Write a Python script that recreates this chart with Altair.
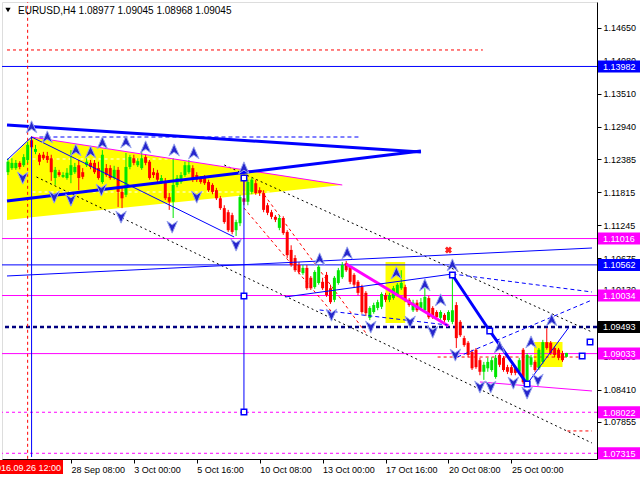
import altair as alt
import pandas as pd

# ---------------- H4 candles (bar 0 = 2016.09.26 12:00) ----------------
FIRST_BAR = -5
bar_open = [1.1216, 1.1223, 1.1223, 1.1232, 1.1228, 1.1237, 1.1271, 1.1251, 1.1246, 1.1246,
            1.1244, 1.1240, 1.1206, 1.1216, 1.1208, 1.1206, 1.1211, 1.1216, 1.1228, 1.1216,
            1.1228, 1.1232, 1.1232, 1.1223, 1.1199, 1.1223, 1.1223, 1.1206, 1.1220, 1.1182,
            1.1177, 1.1225, 1.1240, 1.1228, 1.1223, 1.1242, 1.1234, 1.1216, 1.1215, 1.1199,
            1.1199, 1.1173, 1.1165, 1.1194, 1.1199, 1.1211, 1.1216, 1.1223, 1.1211, 1.1206,
            1.1208, 1.1199, 1.1194, 1.1185, 1.1171, 1.1154, 1.1147, 1.1142, 1.1116, 1.1128,
            1.1171, 1.1165, 1.1182, 1.1197, 1.1185, 1.1180, 1.1159, 1.1147, 1.1139, 1.1120,
            1.1137, 1.1113, 1.1082, 1.1068, 1.1056, 1.1042, 1.1051, 1.1034, 1.1018, 1.1025,
            1.1027, 1.1039, 1.1016, 1.0996, 1.1025, 1.1035, 1.1059, 1.1053, 1.1039, 1.1027,
            1.1018, 1.1008, 1.0965, 1.0975, 1.0982, 1.0984, 1.1004, 1.0996, 1.0999, 1.1004,
            1.1016, 1.1018, 1.0996, 1.0978, 1.0991, 1.0982, 1.0978, 1.0999, 1.0982, 1.0975,
            1.0965, 1.0970, 1.0961, 1.0958, 1.0987, 1.0958, 1.0930, 1.0922, 1.0906, 1.0910,
            1.0892, 1.0872, 1.0878, 1.0875, 1.0863, 1.0901, 1.0896, 1.0880, 1.0880, 1.0878,
            1.0872, 1.0910, 1.0853, 1.0884, 1.0889, 1.0878, 1.0889, 1.0923, 1.0922, 1.0913,
            1.0910, 1.0904, 1.08977]
bar_high = [1.1240, 1.1240, 1.1237, 1.1235, 1.1247, 1.1268, 1.1278, 1.1263, 1.1249, 1.1251,
            1.1251, 1.1246, 1.1225, 1.1220, 1.1216, 1.1223, 1.1254, 1.1232, 1.1237, 1.1223,
            1.1240, 1.1237, 1.1237, 1.1234, 1.1254, 1.1230, 1.1228, 1.1227, 1.1225, 1.1189,
            1.1249, 1.1246, 1.1246, 1.1240, 1.1254, 1.1247, 1.1237, 1.1223, 1.1220, 1.1211,
            1.1206, 1.1180, 1.1240, 1.1211, 1.1216, 1.1234, 1.1237, 1.1228, 1.1216, 1.1209,
            1.1211, 1.1203, 1.1197, 1.1189, 1.1175, 1.1159, 1.1151, 1.1146, 1.1134, 1.1177,
            1.1203, 1.1203, 1.1206, 1.1203, 1.1190, 1.1185, 1.1163, 1.1151, 1.1142, 1.1142,
            1.1140, 1.1116, 1.1090, 1.1073, 1.1061, 1.1056, 1.1056, 1.1037, 1.1047, 1.1056,
            1.1034, 1.1044, 1.1022, 1.1037, 1.1051, 1.1061, 1.1063, 1.1056, 1.1042, 1.1030,
            1.1022, 1.1011, 1.0985, 1.0991, 1.0996, 1.1009, 1.1008, 1.1008, 1.1020, 1.1025,
            1.1047, 1.1022, 1.0999, 1.0996, 1.0996, 1.0999, 1.1016, 1.1003, 1.0985, 1.0978,
            1.0978, 1.0973, 1.0978, 1.1040, 1.0992, 1.0961, 1.0934, 1.0925, 1.0910, 1.0913,
            1.0896, 1.0889, 1.0896, 1.0897, 1.0901, 1.0904, 1.0899, 1.0884, 1.0884, 1.0882,
            1.0896, 1.0913, 1.0904, 1.0901, 1.0892, 1.0913, 1.0927, 1.0947, 1.0925, 1.0916,
            1.0913, 1.0908, 1.09045]
bar_low = [1.1211, 1.1220, 1.1220, 1.1221, 1.1225, 1.1232, 1.1256, 1.1247, 1.1228, 1.1237,
           1.1232, 1.1201, 1.1194, 1.1208, 1.1206, 1.1203, 1.1197, 1.1213, 1.1185, 1.1204,
           1.1225, 1.1221, 1.1213, 1.1203, 1.1196, 1.1208, 1.1203, 1.1203, 1.1156, 1.1154,
           1.1173, 1.1221, 1.1228, 1.1225, 1.1220, 1.1228, 1.1203, 1.1206, 1.1199, 1.1196,
           1.1168, 1.1151, 1.1137, 1.1190, 1.1196, 1.1208, 1.1213, 1.1199, 1.1199, 1.1196,
           1.1194, 1.1182, 1.1178, 1.1168, 1.1151, 1.1127, 1.1113, 1.1109, 1.1106, 1.1123,
           1.1159, 1.1159, 1.1178, 1.1177, 1.1175, 1.1147, 1.1142, 1.1135, 1.1130, 1.1116,
           1.1108, 1.1068, 1.1053, 1.1044, 1.1040, 1.1039, 1.1013, 1.1013, 1.1015, 1.1022,
           1.1013, 1.1001, 1.0989, 1.0992, 1.1022, 1.1032, 1.1044, 1.1023, 1.1018, 1.1004,
           1.0972, 1.0968, 1.0961, 1.0972, 1.0978, 1.0980, 1.0992, 1.0992, 1.0996, 1.1001,
           1.1013, 1.0992, 1.0984, 1.0975, 1.0975, 1.0978, 1.0975, 1.0963, 1.0963, 1.0963,
           1.0961, 1.0958, 1.0958, 1.0954, 1.0913, 1.0932, 1.0915, 1.0897, 1.0875, 1.0877,
           1.0866, 1.0858, 1.0872, 1.0872, 1.0860, 1.0880, 1.0872, 1.0868, 1.0866, 1.0866,
           1.0868, 1.0851, 1.0846, 1.0880, 1.0872, 1.0875, 1.0885, 1.0910, 1.0901, 1.0897,
           1.0892, 1.0889, 1.08968]
bar_close = [1.1234, 1.1232, 1.1232, 1.1225, 1.1242, 1.1263, 1.1259, 1.1256, 1.1234, 1.1240,
             1.1237, 1.1216, 1.1220, 1.1211, 1.1211, 1.1215, 1.1228, 1.1225, 1.1206, 1.1208,
             1.1234, 1.1225, 1.1216, 1.1206, 1.1246, 1.1211, 1.1206, 1.1220, 1.1182, 1.1171,
             1.1225, 1.1242, 1.1232, 1.1235, 1.1240, 1.1232, 1.1206, 1.1211, 1.1203, 1.1206,
             1.1171, 1.1165, 1.1194, 1.1206, 1.1211, 1.1228, 1.1228, 1.1203, 1.1203, 1.1199,
             1.1197, 1.1185, 1.1182, 1.1171, 1.1154, 1.1130, 1.1116, 1.1113, 1.1130, 1.1173,
             1.1165, 1.1199, 1.1203, 1.1180, 1.1180, 1.1151, 1.1146, 1.1139, 1.1134, 1.1137,
             1.1111, 1.1073, 1.1056, 1.1047, 1.1044, 1.1051, 1.1016, 1.1016, 1.1044, 1.1053,
             1.1016, 1.1004, 1.0992, 1.1034, 1.1047, 1.1056, 1.1047, 1.1027, 1.1022, 1.1008,
             1.0975, 1.0973, 1.0982, 1.0987, 1.0992, 1.1006, 1.0996, 1.1004, 1.1016, 1.1022,
             1.1025, 1.0996, 1.0987, 1.0991, 1.0978, 1.0992, 1.1001, 1.0966, 1.0966, 1.0966,
             1.0975, 1.0961, 1.0975, 1.0978, 1.0930, 1.0935, 1.0918, 1.0901, 1.0878, 1.0880,
             1.0872, 1.0884, 1.0889, 1.0892, 1.0896, 1.0884, 1.0875, 1.0872, 1.0870, 1.0870,
             1.0892, 1.0854, 1.0901, 1.0897, 1.0875, 1.0910, 1.0923, 1.0913, 1.0904, 1.0901,
             1.0896, 1.0892, 1.09045]

# time axis labels (bar index -> text)
time_tick_bars = [11, 27, 43, 59, 75, 91, 107, 123]
time_tick_text = ["28 Sep 08:00", "3 Oct 00:00", "5 Oct 16:00", "10 Oct 08:00",
                  "13 Oct 00:00", "17 Oct 16:00", "20 Oct 08:00", "25 Oct 00:00"]
price_ticks = [1.14650, 1.14080, 1.13510, 1.12940, 1.12385, 1.11815, 1.11245,
               1.10675, 1.10130, 1.09560, 1.08990, 1.08410, 1.07855, 1.07300]

# horizontal levels with their price tags
level_price = [1.13982, 1.11016, 1.10562, 1.10034, 1.09493, 1.09033, 1.08022, 1.07315]
level_color = ["#0000ff", "#ff00ff", "#0000ff", "#ff00ff", "#000080", "#ff00ff", "#ff00ff", "#ff00ff"]
tag_color = ["#0000ff", "#ff00ff", "#0000ff", "#ff00ff", "#000000", "#ff00ff", "#ff00ff", "#ff00ff"]
level_style = ["solid", "solid", "solid", "solid", "bold", "solid", "dash", "dash"]

# trend objects: (bar1, price1, bar2, price2)
thick_blue = [(-5.25, 1.12973, 100.0, 1.12508), (-5.25, 1.11663, 100.0, 1.12525),
              (108.0, 1.10388, 117.5, 1.09423), (117.5, 1.09423, 127.0, 1.08509)]
thin_blue = [(-5.25, 1.12370, 1.0, 1.12766), (1.0, 1.12766, 52.5, 1.11043),
             (-5.25, 1.10371, 143.5, 1.10853), (65.5, 1.10009, 108.0, 1.10405),
             (1.0, 1.12766, 1.0, 1.0725), (55.0, 1.12059, 55.0, 1.08027),
             (127.0, 1.08509, 137.5, 1.09475)]
dashed_blue = [(3.0, 1.12766, 84.25, 1.12766), (108.0, 1.10405, 143.5, 1.10095),
               (109.25, 1.08974, 143.5, 1.09957), (74.25, 1.09785, 106.75, 1.09526)]
magenta_thick = [(81.0, 1.10577, 107.0, 1.09509)]
magenta_thin = [(1.0, 1.12766, 80.0, 1.11939), (115.0, 1.08544, 143.5, 1.08389)]
red_dashed = [(-5.25, 1.14266, 115.75, 1.14266), (0.0, 1.0722, 0.0, 1.1509),
              (104.25, 1.08974, 141.0, 1.08974), (137.25, 1.0770, 143.5, 1.0770),
              (55.0, 1.11543, 78.0, 1.09698), (59.25, 1.11853, 86.0, 1.09388)]
black_dotted = [(2.25, 1.12077, 143.5, 1.07492), (50.0, 1.12284, 143.5, 1.09405)]
white_dashed = [(1.25, 1.12387, 36.75, 1.12387), (1.25, 1.11818, 61.75, 1.11818)]

# yellow triangle: upper and lower edges
tri_bar = [-5.25, 1.0, 80.0]
tri_top = [1.12335, 1.12766, 1.11939]
tri_bottom = [1.11336, 1.11381, 1.11939]
# highlight boxes (bar1, bar2, price_low, price_high)
boxes = [(91.0, 96.0, 1.09561, 1.10612), (128.75, 136.0, 1.08802, 1.09233)]

# fractal arrows (bar, price)
up_arrows = [(1, 1.12939), (5, 1.12766), (12.25, 1.12542), (16, 1.12508), (19, 1.12663),
             (25, 1.12680), (30, 1.12594), (37.25, 1.12542), (42.25, 1.12491), (55, 1.12232),
             (74.25, 1.10664), (81.25, 1.10767), (93.75, 1.10422), (101, 1.10216),
             (105, 1.09957), (108, 1.10560), (120, 1.09147), (128, 1.09233), (133.25, 1.09612)]
down_arrows = [(-1.25, 1.12060), (6.75, 1.11732), (11, 1.11680), (18.75, 1.11853),
               (23.75, 1.11387), (36.75, 1.11215), (43, 1.11732), (53, 1.10905),
               (77.25, 1.09698), (87.25, 1.09492), (97.25, 1.09578), (103, 1.09405),
               (108.75, 1.09009), (115, 1.08458), (117.75, 1.08458), (123.5, 1.08526),
               (127, 1.08354), (129.75, 1.08578)]
squares = [(55, 1.12059), (55, 1.10026), (55, 1.08027), (108, 1.10388), (117.5, 1.09423),
           (127, 1.08509), (141, 1.08990), (143, 1.09233)]
cross_marks = [(107, 1.10819)]

# ---------------- scales and axes ----------------
xs = alt.Scale(domain=[-5.25, 143.5], nice=False, zero=False)
ys = alt.Scale(domain=[1.072165, 1.150929], nice=False, zero=False)
FONT = "Liberation Sans"
FS = 9

label_expr = " : ".join(f"datum.value == {b} ? '{t}'" for b, t in zip(time_tick_bars, time_tick_text)) + " : ''"
XA = alt.Axis(values=time_tick_bars, labelExpr=label_expr, tickSize=4, labelAlign="left",
              labelBaseline="top", labelPadding=2, labelFont=FONT, labelFontSize=FS,
              labelColor="black", domainColor="black", tickColor="black", grid=False,
              title=None, labelFlush=False, labelOverlap=False)
YA = alt.Axis(orient="right", values=price_ticks, format=".5f", tickSize=4, labelPadding=2,
              labelFont=FONT, labelFontSize=FS, labelColor="black", domainColor="black",
              tickColor="black", grid=False, title=None, labelFlush=False, labelOverlap=False)


def X(field):
    return alt.X(field, scale=xs, axis=XA)


def Y(field):
    return alt.Y(field, scale=ys, axis=YA)


bars = list(range(FIRST_BAR, FIRST_BAR + len(bar_close)))
candles = pd.DataFrame({"bar": bars, "open": bar_open, "high": bar_high,
                        "low": bar_low, "close": bar_close})
candles["dir"] = ["up" if c >= o else "down" for o, c in zip(bar_open, bar_close)]
candle_color = alt.Color("dir:N", scale=alt.Scale(domain=["up", "down"],
                                                  range=["#00e600", "#ff0000"]), legend=None)


def seg_layer(rows, color, width=1.0, dash=None):
    df = pd.DataFrame(rows, columns=["b1", "p1", "b2", "p2"])
    kw = dict(color=color, strokeWidth=width, clip=True)
    if dash:
        kw["strokeDash"] = dash
    return alt.Chart(df).mark_rule(**kw).encode(x=X("b1:Q"), x2="b2:Q", y=Y("p1:Q"), y2="p2:Q")


def pts(rows):
    return pd.DataFrame(rows, columns=["bar", "price"])


# yellow triangle
tri = alt.Chart(pd.DataFrame({"bar": tri_bar, "top": tri_top, "bottom": tri_bottom})).mark_area(
    color="#ffff00", opacity=1, clip=True).encode(x=X("bar:Q"), y=Y("top:Q"), y2="bottom:Q")

box_layer = alt.Chart(pd.DataFrame(boxes, columns=["b1", "b2", "lo", "hi"])).mark_rect(
    color="#ffff00", clip=True).encode(x=X("b1:Q"), x2="b2:Q", y=Y("lo:Q"), y2="hi:Q")

levels = pd.DataFrame({"price": level_price, "color": level_color, "tag": tag_color,
                       "style": level_style})
lvl_layers = []
for style, width, dash in [("solid", 1.0, None), ("bold", 2.5, [4, 3]), ("dash", 1.0, [3, 3])]:
    sub = levels[levels["style"] == style]
    kw = dict(strokeWidth=width, clip=True)
    if dash:
        kw["strokeDash"] = dash
    lvl_layers.append(alt.Chart(sub).mark_rule(**kw).encode(
        y=Y("price:Q"), color=alt.Color("color:N", scale=None)))

wick = alt.Chart(candles).mark_rule(strokeWidth=1, clip=True).encode(
    x=X("bar:Q"), y=Y("low:Q"), y2="high:Q", color=candle_color)
body = alt.Chart(candles).mark_bar(size=3, clip=True).encode(
    x=X("bar:Q"), y=Y("open:Q"), y2="close:Q", color=candle_color)

UP = "M0,-1L0.85,0.95L0,0.35L-0.85,0.95Z"
DOWN = "M0,1L0.85,-0.95L0,-0.35L-0.85,-0.95Z"
arrow_style = dict(size=150, filled=True, fill="#2626cc", stroke="#9aa6ee", strokeWidth=1,
                   opacity=1, clip=True)
up_layer = alt.Chart(pts(up_arrows)).mark_point(shape=UP, **arrow_style).encode(
    x=X("bar:Q"), y=Y("price:Q"))
down_layer = alt.Chart(pts(down_arrows)).mark_point(shape=DOWN, **arrow_style).encode(
    x=X("bar:Q"), y=Y("price:Q"))
sq_layer = alt.Chart(pts(squares)).mark_square(
    size=30, filled=True, fill="white", stroke="#0000ff", strokeWidth=1.5, opacity=1, clip=True).encode(
    x=X("bar:Q"), y=Y("price:Q"))
cross_layer = alt.Chart(pts(cross_marks)).mark_point(
    shape="cross", size=50, filled=True, color="#ff2020", angle=45, opacity=1, clip=True).encode(
    x=X("bar:Q"), y=Y("price:Q"))

# price tags on the right scale
tag_bg = alt.Chart(levels).mark_rule(strokeWidth=12, strokeCap="butt").encode(
    x=alt.value(596), x2=alt.value(640), y=Y("price:Q"), color=alt.Color("tag:N", scale=None))
tag_txt = alt.Chart(levels).mark_text(align="left", baseline="middle", font=FONT, fontSize=FS,
                                      color="white", dy=0.5).encode(
    x=alt.value(601), y=Y("price:Q"), text=alt.Text("price:Q", format=".5f"))

# date tag at the lower left and chart caption
date_bg = alt.Chart(pd.DataFrame({"t": ["2016.09.26 12:00"]})).mark_rule(
    strokeWidth=14, strokeCap="butt", color="#ff0000").encode(
    x=alt.value(-2), x2=alt.value(61), y=alt.value(465))
date_txt = alt.Chart(pd.DataFrame({"t": ["2016.09.26 12:00"]})).mark_text(
    align="right", baseline="middle", font=FONT, fontSize=FS, color="white").encode(
    x=alt.value(59), y=alt.value(466), text="t:N")
caption_tri = alt.Chart(pd.DataFrame({"t": [""]})).mark_point(
    shape="triangle-down", size=28, filled=True, color="black", opacity=1).encode(
    x=alt.value(6), y=alt.value(8))
caption = alt.Chart(pd.DataFrame({"t": ["EURUSD,H4  1.08977 1.09045 1.08968 1.09045"]})).mark_text(
    align="left", baseline="middle", font=FONT, fontSize=10, color="black").encode(
    x=alt.value(16), y=alt.value(8.5), text="t:N")

chart = alt.layer(
    tri, box_layer,
    seg_layer(white_dashed, "white", 1, [3, 3]),
    *lvl_layers,
    seg_layer(black_dotted, "black", 1, [2, 3]),
    seg_layer(red_dashed, "#ff0000", 1, [3, 3]),
    wick, body,
    seg_layer(magenta_thin, "#ff00ff", 1),
    seg_layer(magenta_thick, "#ff00ff", 3),
    seg_layer(thin_blue, "#0000ff", 1),
    seg_layer(dashed_blue, "#0000ff", 1, [4, 3]),
    seg_layer(thick_blue, "#0000ff", 3),
    up_layer, down_layer, sq_layer, cross_layer,
    tag_bg, tag_txt, date_bg, date_txt, caption_tri, caption,
).properties(
    width=595, height=457,
    padding={"left": 2, "top": 2, "right": 43, "bottom": 21},
    autosize=alt.AutoSizeParams(type="none"),
).configure_view(stroke="black", strokeWidth=1).configure(background="white")

chart.save("out.html", embed_options={"renderer": "svg", "actions": False})
